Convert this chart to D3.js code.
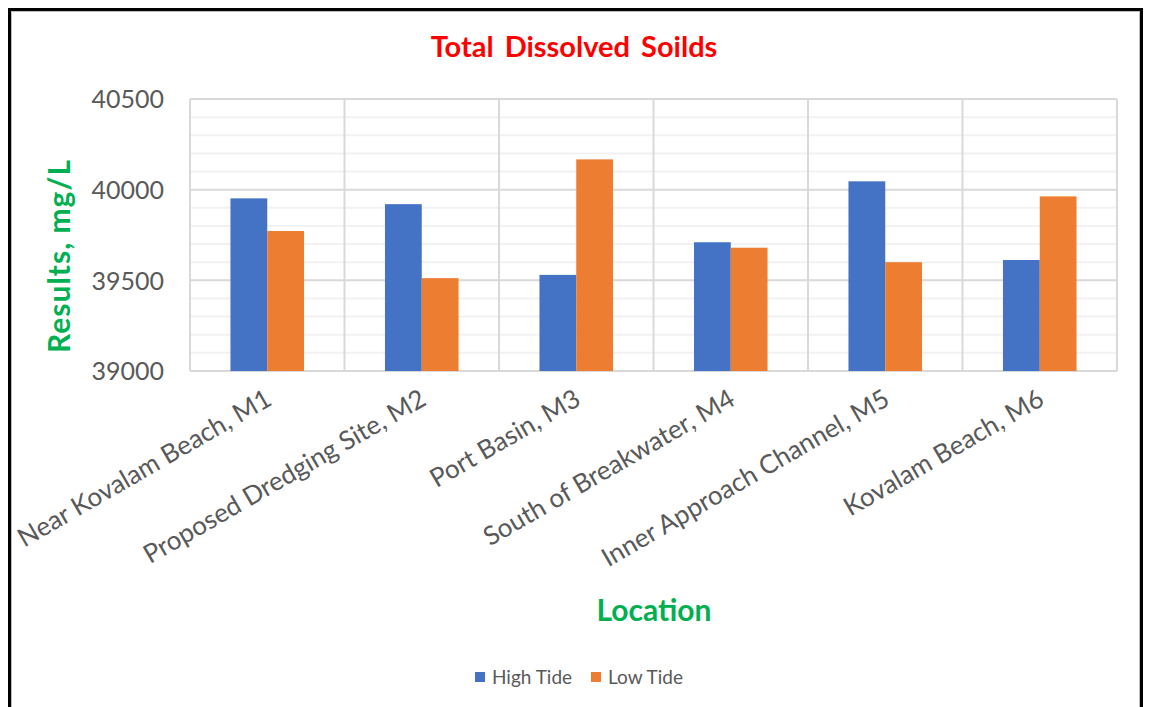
<!DOCTYPE html>
<html>
<head>
<meta charset="utf-8">
<script src="https://cdn.jsdelivr.net/npm/d3@7"></script>
<style>
  html, body { margin: 0; padding: 0; background: #fff; }
  svg { display: block; }
  text { font-family: Lato, "Open Sans", sans-serif; }
</style>
</head>
<body>
<svg id="chart" width="1149" height="707"></svg>
<script>
const categories = ["Near Kovalam Beach, M1", "Proposed Dredging Site, M2", "Port Basin, M3",
  "South of Breakwater, M4", "Inner Approach Channel, M5", "Kovalam Beach, M6"];
const seriesNames = ["High Tide", "Low Tide"];
const highTide = [39952, 39920, 39530, 39710, 40046, 39612];
const lowTide = [39772, 39512, 40167, 39680, 39600, 39963];
const yTicks = [39000, 39500, 40000, 40500];
const colors = ["#4472C4", "#ED7D31"];

const svg = d3.select("#chart");
const m = {left: 190, right: 1117, top: 99, bottom: 371};

// outer frame
svg.append("rect").attr("x", 9.5).attr("y", 9.5).attr("width", 1132).attr("height", 720)
  .attr("fill", "#fff").attr("stroke", "#000").attr("stroke-width", 3);
svg.append("rect").attr("x", 11.5).attr("y", 11.5).attr("width", 1128).attr("height", 720)
  .attr("fill", "none").attr("stroke", "#bfbfbf").attr("stroke-width", 1);

const x = d3.scaleBand().domain(categories).range([m.left, m.right]).padding(0);
const y = d3.scaleLinear().domain([39000, 40500]).range([m.bottom, m.top]);
const groupW = x.bandwidth() / 2.1;
const x1 = d3.scaleBand().domain(seriesNames).range([0, groupW]).padding(0);

// minor gridlines
const minor = d3.range(39000, 40501, 100).filter(v => v % 500 !== 0);
svg.append("g").selectAll("line").data(minor).join("line")
  .attr("x1", m.left).attr("x2", m.right)
  .attr("y1", d => y(d)).attr("y2", d => y(d))
  .attr("stroke", "#f2f2f2").attr("stroke-width", 2);

// major gridlines
svg.append("g").selectAll("line").data(yTicks).join("line")
  .attr("x1", m.left).attr("x2", m.right)
  .attr("y1", d => y(d)).attr("y2", d => y(d))
  .attr("stroke", "#d9d9d9").attr("stroke-width", 2);

// vertical gridlines at category boundaries
const bounds = categories.map(c => x(c)).concat([m.right]);
svg.append("g").selectAll("line").data(bounds).join("line")
  .attr("x1", d => d).attr("x2", d => d)
  .attr("y1", m.top).attr("y2", m.bottom)
  .attr("stroke", "#d9d9d9").attr("stroke-width", 2);

// bars
const data = categories.map((c, i) => ({c, vals: [highTide[i], lowTide[i]]}));
const g = svg.append("g").selectAll("g").data(data).join("g")
  .attr("transform", d => `translate(${x(d.c) + (x.bandwidth() - groupW) / 2},0)`);
g.selectAll("rect").data(d => d.vals.map((v, j) => ({v, s: seriesNames[j], j})))
  .join("rect")
  .attr("x", d => x1(d.s))
  .attr("width", x1.bandwidth())
  .attr("y", d => y(d.v))
  .attr("height", d => y(39000) - y(d.v))
  .attr("fill", d => colors[d.j]);

// y axis tick labels
const yAxis = d3.axisLeft(y).tickValues(yTicks).tickSize(0).tickPadding(0).tickFormat(d3.format("d"));
const ya = svg.append("g").attr("transform", `translate(${m.left - 26},0)`).call(yAxis);
ya.select(".domain").remove();
ya.selectAll("text").attr("fill", "#595959").style("font-size", "25px")
  .style("font-family", "Lato, sans-serif").attr("dy", "0.35em");

// x axis labels rotated
const xAxis = d3.axisBottom(x).tickSize(0).tickPadding(0);
const xa = svg.append("g").attr("transform", `translate(0,${m.bottom})`).call(xAxis);
xa.select(".domain").remove();
xa.selectAll("text")
  .attr("fill", "#595959").style("font-size", "26px").style("font-family", "Lato, sans-serif")
  .attr("text-anchor", "end")
  .attr("dy", null).attr("y", 0)
  .attr("transform", "translate(6,33) rotate(-30)");

// title
svg.append("text").attr("x", 574).attr("y", 57).attr("text-anchor", "middle")
  .attr("fill", "#FF0000").style("font-size", "29px").style("font-weight", "bold")
  .style("word-spacing", "4px")
  .text("Total Dissolved Soilds");

// axis titles
svg.append("text").attr("transform", "translate(70,256) rotate(-90)").attr("text-anchor", "middle")
  .attr("fill", "#00B050").style("font-size", "30px").style("font-weight", "bold")
  .style("letter-spacing", "1px")
  .text("Results, mg/L");
svg.append("text").attr("x", 654).attr("y", 621).attr("text-anchor", "middle")
  .attr("fill", "#00B050").style("font-size", "30px").style("font-weight", "bold")
  .text("Location");

// legend
const legX = [475, 591];
const lg = svg.append("g").selectAll("g").data(seriesNames).join("g")
  .attr("transform", (d, i) => `translate(${legX[i]},672)`);
lg.append("rect").attr("width", 10).attr("height", 10).attr("fill", (d, i) => colors[i]);
lg.append("text").attr("x", 17).attr("y", 5).attr("dy", "0.35em")
  .attr("fill", "#595959").style("font-size", "19px").text(d => d);
</script>
</body>
</html>
